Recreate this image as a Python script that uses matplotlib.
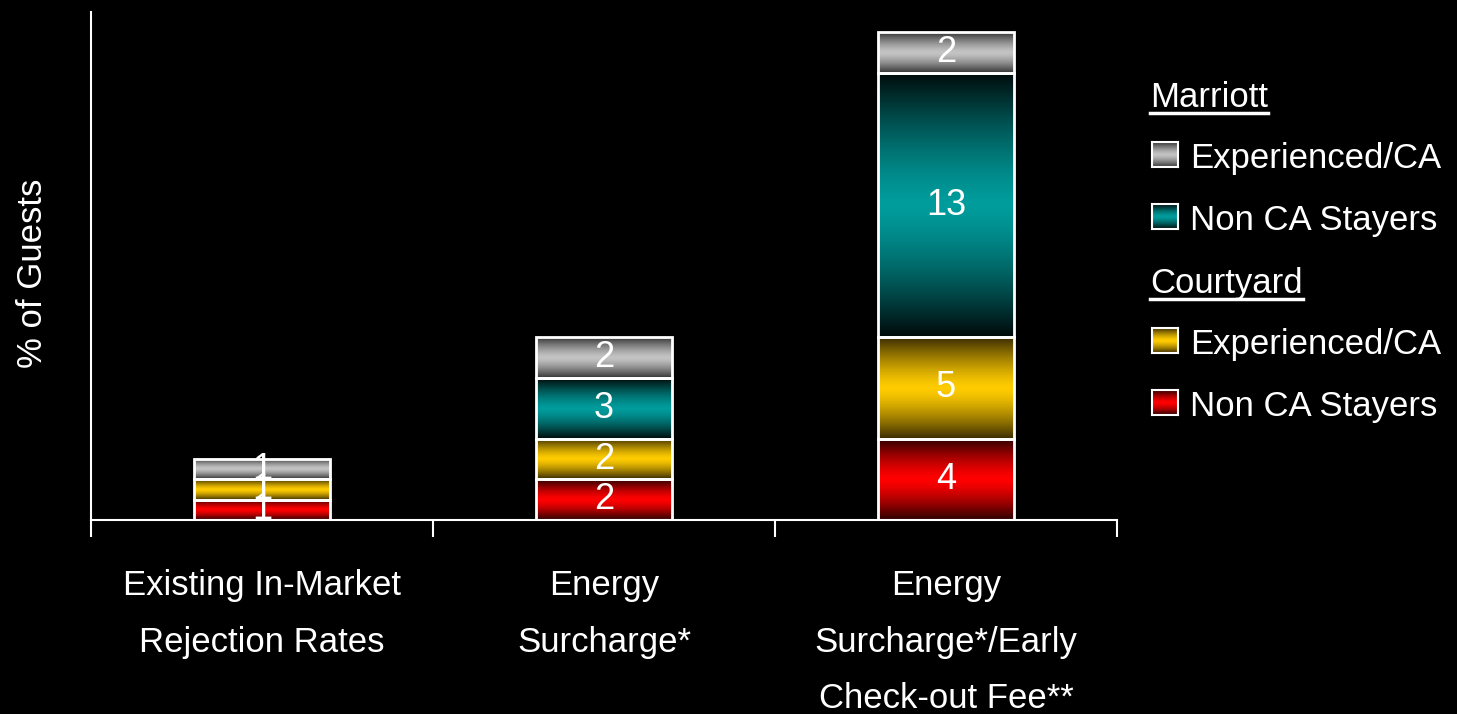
import numpy as np
import matplotlib
matplotlib.use('Agg')
import matplotlib.pyplot as plt
from matplotlib.colors import to_rgb
from matplotlib.lines import Line2D

plt.rcParams['font.family'] = ['Liberation Sans', 'DejaVu Sans']

categories = ['Existing In-Market\nRejection Rates', 'Energy\nSurcharge*',
              'Energy\nSurcharge*/Early\nCheck-out Fee**']
courtyard_non_ca = [1, 2, 4]
courtyard_exp = [1, 2, 5]
marriott_non_ca = [0, 3, 13]
marriott_exp = [1, 2, 2]

# bottom -> top stacking order: (values, centre colour, edge colour)
stack = [
    (courtyard_non_ca, '#ff0000', '#2a0000'),
    (courtyard_exp, '#ffcc00', '#3a2c00'),
    (marriott_non_ca, '#009c9c', '#000a0a'),
    (marriott_exp, '#c4c4c4', '#333333'),
]

legend_groups = [
    ('Marriott', [('Experienced/CA', '#c4c4c4', '#333333'),
                  ('Non CA Stayers', '#009c9c', '#000a0a')]),
    ('Courtyard', [('Experienced/CA', '#ffcc00', '#3a2c00'),
                   ('Non CA Stayers', '#ff0000', '#2a0000')]),
]

W, H = 1457, 714
FS = 25


def shade(center, edge, n=128):
    # vertical "cylinder" shading: dark at top/bottom, bright in the middle
    t = np.linspace(0, 1, n)
    w = np.abs(2 * t - 1) ** 1.4
    c = np.array(to_rgb(center))
    e = np.array(to_rgb(edge))
    img = (1 - w)[:, None] * c + w[:, None] * e
    return img[:, None, :]


fig = plt.figure(figsize=(W / 100, H / 100), dpi=100, facecolor='black')
ax = fig.add_axes([91 / W, 1 - 520 / H, (1117 - 91) / W, 508 / H])
ax.set_facecolor('black')

x = np.arange(len(categories))
bar_w = 0.40
bottom = np.zeros(len(categories))
for vals, c_mid, c_edge in stack:
    vals = np.array(vals, dtype=float)
    bars = ax.bar(x, vals, bar_w, bottom=bottom, facecolor='none',
                  edgecolor='white', linewidth=2, zorder=3)
    for rect, v in zip(bars, vals):
        if v <= 0:
            rect.set_visible(False)
            continue
        x0, y0 = rect.get_x(), rect.get_y()
        ax.imshow(shade(c_mid, c_edge), extent=(x0, x0 + rect.get_width(), y0, y0 + v),
                  aspect='auto', zorder=2, interpolation='bilinear')
        ax.text(x0 + rect.get_width() / 2, y0 + v / 2, f'{v:g}', color='white',
                fontsize=FS + 1, ha='center', va='center', zorder=4)
    bottom += vals

ax.set_xlim(-0.5, 2.5)
ax.set_ylim(0, 25)
ax.set_yticks([])
ax.set_xticks(x, categories)
ax.set_xticks([-0.5, 0.5, 1.5, 2.5], minor=True)
ax.tick_params(axis='x', which='major', length=0, pad=35, labelsize=FS, labelcolor='white')
ax.tick_params(axis='x', which='minor', length=12, width=1.5, color='white', direction='out')
for lbl in ax.get_xticklabels():
    lbl.set_linespacing(1.92)
for s in ['top', 'right']:
    ax.spines[s].set_visible(False)
for s in ['left', 'bottom']:
    ax.spines[s].set_color('white')
    ax.spines[s].set_linewidth(1.5)

fig.text(33 / W, 1 - 273 / H, '% of Guests', rotation=90, color='white',
         fontsize=FS, ha='center', va='center')

# hand-made legend on the right
headers = []
base = 107
for head, entries in legend_groups:
    headers.append(fig.text(1150 / W, 1 - base / H, head, color='white',
                            fontsize=FS, ha='left', va='baseline'))
    base += 61
    for name, c_mid, c_edge in entries:
        sq = fig.add_axes([1152 / W, 1 - (base - 1) / H, 26 / W, 25 / H])
        sq.imshow(shade(c_mid, c_edge), aspect='auto', interpolation='bilinear')
        sq.set_xticks([])
        sq.set_yticks([])
        for sp in sq.spines.values():
            sp.set_color('white')
            sp.set_linewidth(1.5)
        fig.text(1190 / W, 1 - base / H, name, color='white', fontsize=FS,
                 ha='left', va='baseline')
        base += 62
    base += 1

fig.canvas.draw()
for t in headers:
    bb = t.get_window_extent()
    y = bb.y0 + 1
    fig.add_artist(Line2D([bb.x0 / W, bb.x1 / W], [y / H, y / H],
                          transform=fig.transFigure, color='white', linewidth=2.5))

fig.savefig('out.png', dpi=100, facecolor='black')
